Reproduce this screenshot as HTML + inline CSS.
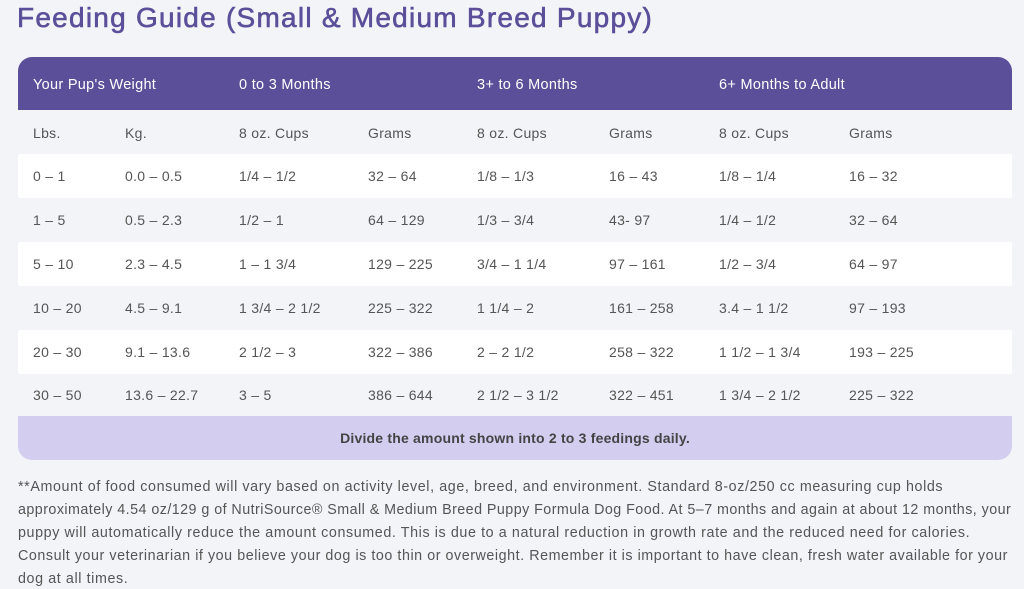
<!DOCTYPE html>
<html><head><meta charset="utf-8"><style>
body{margin:0;width:1024px;height:589px;background:#f3f4f8;font-family:"Liberation Sans",sans-serif;position:relative;overflow:hidden}
h1{position:absolute;left:17px;top:2px;margin:0;font-size:28px;font-weight:normal;color:#5c4f99;letter-spacing:1.25px;-webkit-text-stroke:0.6px #5c4f99}
.tbl{position:absolute;left:18px;top:57px;width:994px;height:403px;border-radius:14px;overflow:hidden;background:#fff}
.r{position:absolute;left:0;width:994px}
.c{position:absolute;font-size:14px;color:#555;white-space:nowrap;letter-spacing:0.3px}
.h .c{color:#fff;font-size:14.5px;margin-top:2px}
.p{position:absolute;left:18px;font-size:14.3px;color:#555;white-space:nowrap;letter-spacing:0.6px}
</style></head><body>
<h1>Feeding Guide (Small &amp; Medium Breed Puppy)</h1>
<div class="tbl">
<div class="r h" style="top:0;height:53px;background:#5c4f99">
<span class="c" style="left:15px;top:18px">Your Pup's Weight</span>
<span class="c" style="left:221px;top:18px">0 to 3 Months</span>
<span class="c" style="left:459px;top:18px">3+ to 6 Months</span>
<span class="c" style="left:701px;top:18px">6+ Months to Adult</span>
</div>
<div class="r" style="top:53px;height:44px;background:#f3f4f8">
<span class="c" style="left:15px;top:15px">Lbs.</span><span class="c" style="left:107px;top:15px">Kg.</span><span class="c" style="left:221px;top:15px">8 oz. Cups</span><span class="c" style="left:350px;top:15px">Grams</span><span class="c" style="left:459px;top:15px">8 oz. Cups</span><span class="c" style="left:591px;top:15px">Grams</span><span class="c" style="left:701px;top:15px">8 oz. Cups</span><span class="c" style="left:831px;top:15px">Grams</span>
</div>
<div class="r" style="top:97px;height:44px;background:#fff">
<span class="c" style="left:15px;top:14px">0 – 1</span><span class="c" style="left:107px;top:14px">0.0 – 0.5</span><span class="c" style="left:221px;top:14px">1/4 – 1/2</span><span class="c" style="left:350px;top:14px">32 – 64</span><span class="c" style="left:459px;top:14px">1/8 – 1/3</span><span class="c" style="left:591px;top:14px">16 – 43</span><span class="c" style="left:701px;top:14px">1/8 – 1/4</span><span class="c" style="left:831px;top:14px">16 – 32</span>
</div>
<div class="r" style="top:141px;height:44px;background:#f3f4f8">
<span class="c" style="left:15px;top:14px">1 – 5</span><span class="c" style="left:107px;top:14px">0.5 – 2.3</span><span class="c" style="left:221px;top:14px">1/2 – 1</span><span class="c" style="left:350px;top:14px">64 – 129</span><span class="c" style="left:459px;top:14px">1/3 – 3/4</span><span class="c" style="left:591px;top:14px">43- 97</span><span class="c" style="left:701px;top:14px">1/4 – 1/2</span><span class="c" style="left:831px;top:14px">32 – 64</span>
</div>
<div class="r" style="top:185px;height:44px;background:#fff">
<span class="c" style="left:15px;top:14px">5 – 10</span><span class="c" style="left:107px;top:14px">2.3 – 4.5</span><span class="c" style="left:221px;top:14px">1 – 1 3/4</span><span class="c" style="left:350px;top:14px">129 – 225</span><span class="c" style="left:459px;top:14px">3/4 – 1 1/4</span><span class="c" style="left:591px;top:14px">97 – 161</span><span class="c" style="left:701px;top:14px">1/2 – 3/4</span><span class="c" style="left:831px;top:14px">64 – 97</span>
</div>
<div class="r" style="top:229px;height:44px;background:#f3f4f8">
<span class="c" style="left:15px;top:14px">10 – 20</span><span class="c" style="left:107px;top:14px">4.5 – 9.1</span><span class="c" style="left:221px;top:14px">1 3/4 – 2 1/2</span><span class="c" style="left:350px;top:14px">225 – 322</span><span class="c" style="left:459px;top:14px">1 1/4 – 2</span><span class="c" style="left:591px;top:14px">161 – 258</span><span class="c" style="left:701px;top:14px">3.4 – 1 1/2</span><span class="c" style="left:831px;top:14px">97 – 193</span>
</div>
<div class="r" style="top:273px;height:44px;background:#fff">
<span class="c" style="left:15px;top:14px">20 – 30</span><span class="c" style="left:107px;top:14px">9.1 – 13.6</span><span class="c" style="left:221px;top:14px">2 1/2 – 3</span><span class="c" style="left:350px;top:14px">322 – 386</span><span class="c" style="left:459px;top:14px">2 – 2 1/2</span><span class="c" style="left:591px;top:14px">258 – 322</span><span class="c" style="left:701px;top:14px">1 1/2 – 1 3/4</span><span class="c" style="left:831px;top:14px">193 – 225</span>
</div>
<div class="r" style="top:317px;height:42px;background:#f3f4f8">
<span class="c" style="left:15px;top:13px">30 – 50</span><span class="c" style="left:107px;top:13px">13.6 – 22.7</span><span class="c" style="left:221px;top:13px">3 – 5</span><span class="c" style="left:350px;top:13px">386 – 644</span><span class="c" style="left:459px;top:13px">2 1/2 – 3 1/2</span><span class="c" style="left:591px;top:13px">322 – 451</span><span class="c" style="left:701px;top:13px">1 3/4 – 2 1/2</span><span class="c" style="left:831px;top:13px">225 – 322</span>
</div>
<div class="r" style="top:359px;height:44px;background:#d3cdf0;text-align:center">
<span style="position:relative;top:14px;font-size:14px;font-weight:bold;color:#444;letter-spacing:0.2px">Divide the amount shown into 2 to 3 feedings daily.</span>
</div>
</div>
<div class="p" style="top:479px">**Amount of food consumed will vary based on activity level, age, breed, and environment. Standard 8-oz/250 cc measuring cup holds</div>
<div class="p" style="top:502px;letter-spacing:0.45px">approximately 4.54 oz/129 g of NutriSource® Small &amp; Medium Breed Puppy Formula Dog Food. At 5–7 months and again at about 12 months, your</div>
<div class="p" style="top:525px">puppy will automatically reduce the amount consumed. This is due to a natural reduction in growth rate and the reduced need for calories.</div>
<div class="p" style="top:548px;letter-spacing:0.55px">Consult your veterinarian if you believe your dog is too thin or overweight. Remember it is important to have clean, fresh water available for your</div>
<div class="p" style="top:571px">dog at all times.</div>
</body></html>
